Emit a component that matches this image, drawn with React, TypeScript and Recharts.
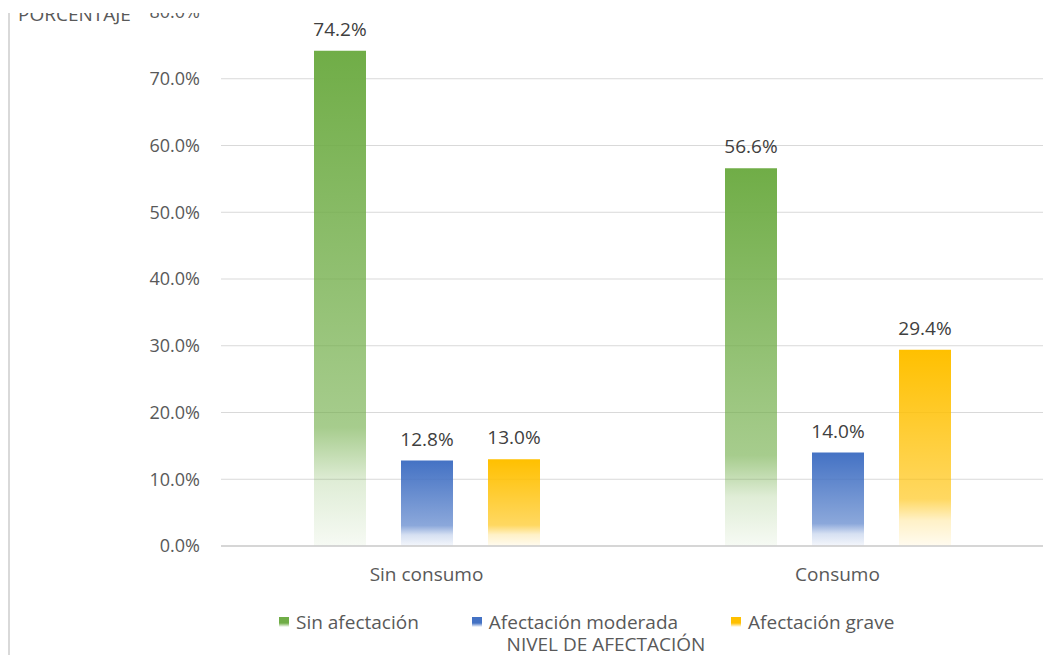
import React from "react";
import {
  BarChart,
  Bar,
  XAxis,
  YAxis,
  CartesianGrid,
  Legend,
  LabelList,
} from "recharts";

const categories = ["Sin consumo", "Consumo"];
const sinAfectacion = [74.2, 56.6];
const afectacionModerada = [12.8, 14.0];
const afectacionGrave = [13.0, 29.4];
const yTicks = [0, 10, 20, 30, 40, 50, 60, 70, 80];

const series = [
  { key: "sinAfectacion", name: "Sin afectación", color: "#70AD47" },
  { key: "afectacionModerada", name: "Afectación moderada", color: "#4472C4" },
  { key: "afectacionGrave", name: "Afectación grave", color: "#FFC000" },
];

const data = categories.map((cat, i) => ({
  cat,
  sinAfectacion: sinAfectacion[i],
  afectacionModerada: afectacionModerada[i],
  afectacionGrave: afectacionGrave[i],
}));

const FONT = "'Open Sans', 'Noto Sans', sans-serif";
const fmt = (v: number) => `${Number(v).toFixed(1)}%`;

function LegendContent() {
  return (
    <div
      style={{
        height: 20,
        display: "flex",
        alignItems: "center",
        gap: 53,
        paddingLeft: 279,
        fontFamily: FONT,
        fontSize: 19,
        lineHeight: "19px",
        color: "#595959",
      }}
    >
      {series.map((s) => (
        <div key={s.key} style={{ display: "flex", alignItems: "center" }}>
          <span
            style={{
              width: 10,
              height: 10,
              marginRight: 7,
              background: `linear-gradient(${s.color}, ${s.color} 60%, #ffffff)`,
            }}
          />
          <span>{s.name}</span>
        </div>
      ))}
    </div>
  );
}

export default function App() {
  return (
    <div
      style={{
        position: "absolute",
        left: 0,
        top: 0,
        width: 1054,
        height: 655,
        background: "#fff",
        overflow: "hidden",
        fontFamily: FONT,
      }}
    >
      <BarChart
        width={1054}
        height={655}
        data={data}
        margin={{ top: 12, right: 11, left: 0, bottom: 23 }}
        barSize={52}
        barGap={35}
      >
        <defs>
          {series.map((s) => (
            <linearGradient key={s.key} id={`g-${s.key}`} x1="0" y1="0" x2="0" y2="1">
              <stop offset="0%" stopColor={s.color} stopOpacity={1} />
              <stop offset="76%" stopColor={s.color} stopOpacity={0.62} />
              <stop offset="87%" stopColor={s.color} stopOpacity={0.22} />
              <stop offset="100%" stopColor={s.color} stopOpacity={0.06} />
            </linearGradient>
          ))}
        </defs>
        <CartesianGrid vertical={false} stroke="#d9d9d9" strokeWidth={1.2} />
        <XAxis
          dataKey="cat"
          height={66}
          axisLine={{ stroke: "#cfcfcf", strokeWidth: 1.5 }}
          tickLine={false}
          tickMargin={16}
          tick={{ fill: "#595959", fontSize: 19, fontFamily: FONT }}
        />
        <YAxis
          width={221}
          domain={[0, 80]}
          ticks={yTicks}
          interval={0}
          axisLine={false}
          tickLine={false}
          tickMargin={15}
          tickFormatter={fmt}
          tick={{ fill: "#595959", fontSize: 18, fontFamily: FONT }}
        />
        <Legend verticalAlign="bottom" content={<LegendContent />} wrapperStyle={{ left: 0, width: 1054 }} />
        {series.map((s) => (
          <Bar
            key={s.key}
            dataKey={s.key}
            name={s.name}
            fill={`url(#g-${s.key})`}
            isAnimationActive={false}
          >
            <LabelList
              dataKey={s.key}
              position="top"
              offset={15}
              formatter={fmt}
              style={{ fill: "#404040", fontSize: 19, fontFamily: FONT }}
            />
          </Bar>
        ))}
      </BarChart>
      {/* cropped top edge of the original image */}
      <div style={{ position: "absolute", left: 0, top: 0, width: 1054, height: 13, background: "#fff" }} />
      <div style={{ position: "absolute", left: 8, top: 13, width: 2, height: 642, background: "#d9d9d9" }} />
      <div
        style={{
          position: "absolute",
          left: 18,
          top: 2,
          fontSize: 19,
          lineHeight: "24px",
          color: "#595959",
          clipPath: "inset(11px 0 0 0)",
        }}
      >
        PORCENTAJE
      </div>
      <div
        style={{
          position: "absolute",
          left: 0,
          width: 1212,
          top: 635,
          textAlign: "center",
          fontSize: 19,
          lineHeight: "19px",
          color: "#595959",
        }}
      >
        NIVEL DE AFECTACIÓN
      </div>
    </div>
  );
}
